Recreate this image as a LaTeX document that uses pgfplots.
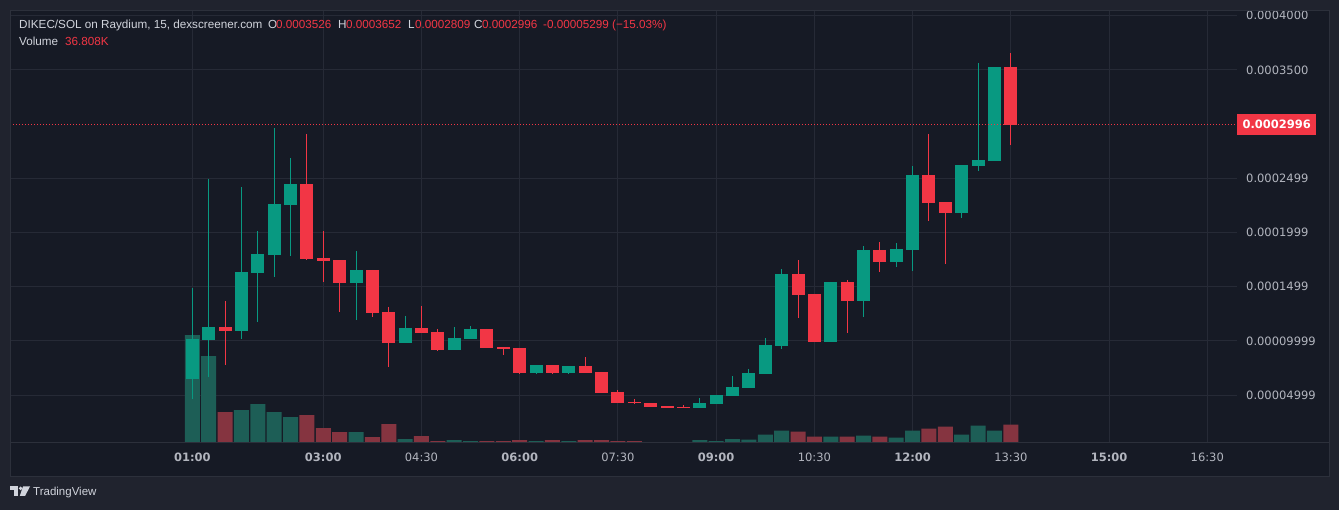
\documentclass[border=0pt]{standalone}
\usepackage{pgfplots}
\pgfplotsset{compat=1.18}
\usepackage{pgfplotstable}
\usepackage{fontspec}
\setmainfont{Liberation Sans}
\newfontfamily\dejavu{DejaVu Sans}
\definecolor{outerbg}{HTML}{20232E}
\definecolor{panebg}{HTML}{161A25}
\definecolor{gridc}{HTML}{262A36}
\definecolor{framec}{HTML}{2C303B}
\definecolor{upc}{HTML}{089981}
\definecolor{dnc}{HTML}{F23645}
\definecolor{upv}{HTML}{1D5E56}
\definecolor{dnv}{HTML}{853440}
\definecolor{txt}{HTML}{D1D4DC}
\definecolor{axtxt}{HTML}{B2B5BE}

% t = hours, O H L C = price (SOL), V = volume (K)
\pgfplotstableread{
t O H L C V
1.00 0.0000651 0.0001488 0.0000467 0.0001018 216.7
1.25 0.0001008 0.0002491 0.0000670 0.0001128 174.5
1.75 0.0001091 0.0002420 0.0001018 0.0001636 65.9
2.00 0.0001626 0.0002014 0.0001174 0.0001802 78.0
2.25 0.0001792 0.0002964 0.0001590 0.0002263 61.9
2.50 0.0002254 0.0002687 0.0001783 0.0002447 51.9
3.50 0.0001534 0.0001829 0.0001193 0.0001654 21.7
4.25 0.0000981 0.0001230 0.0000981 0.0001119 7.6
5.00 0.0000916 0.0001128 0.0000916 0.0001027 5.6
5.25 0.0001018 0.0001137 0.0001018 0.0001110 3.6
6.25 0.0000704 0.0000778 0.0000695 0.0000778 3.6
6.75 0.0000704 0.0000768 0.0000695 0.0000768 3.6
8.75 0.0000381 0.0000473 0.0000381 0.0000427 5.6
9.00 0.0000418 0.0000501 0.0000418 0.0000501 3.6
9.25 0.0000492 0.0000676 0.0000492 0.0000575 7.6
9.50 0.0000566 0.0000741 0.0000566 0.0000704 6.6
9.75 0.0000695 0.0001027 0.0000695 0.0000962 16.7
10.00 0.0000953 0.0001663 0.0000925 0.0001617 24.7
10.75 0.0000990 0.0001543 0.0000990 0.0001543 12.7
11.25 0.0001368 0.0001875 0.0001220 0.0001839 14.7
11.75 0.0001728 0.0001903 0.0001682 0.0001848 10.7
12.00 0.0001839 0.0002613 0.0001645 0.0002530 24.7
12.75 0.0002180 0.0002623 0.0002134 0.0002623 16.7
13.00 0.0002613 0.0003564 0.0002567 0.0002669 34.8
13.25 0.0002660 0.0003526 0.0002660 0.0003526 24.7
}\up

\pgfplotstableread{
t O H L C V
1.50 0.0001128 0.0001368 0.0000778 0.0001091 61.9
2.75 0.0002447 0.0002909 0.0001746 0.0001756 55.9
3.00 0.0001765 0.0002014 0.0001543 0.0001737 29.7
3.25 0.0001746 0.0001746 0.0001267 0.0001534 21.7
3.75 0.0001654 0.0001654 0.0001220 0.0001257 11.7
4.00 0.0001267 0.0001313 0.0000759 0.0000981 37.8
4.50 0.0001119 0.0001322 0.0001073 0.0001073 13.7
4.75 0.0001082 0.0001110 0.0000907 0.0000916 3.6
5.50 0.0001110 0.0001110 0.0000935 0.0000935 3.6
5.75 0.0000944 0.0000944 0.0000870 0.0000925 3.6
6.00 0.0000935 0.0000935 0.0000697 0.0000704 5.6
6.50 0.0000778 0.0000778 0.0000695 0.0000704 5.6
7.00 0.0000768 0.0000851 0.0000704 0.0000704 5.6
7.25 0.0000713 0.0000713 0.0000519 0.0000519 5.6
7.50 0.0000529 0.0000547 0.0000427 0.0000427 3.6
7.75 0.0000436 0.0000464 0.0000418 0.0000427 3.6
8.00 0.0000427 0.0000427 0.0000390 0.0000390 1.6
8.25 0.0000399 0.0000399 0.0000381 0.0000381 1.6
8.50 0.0000390 0.0000409 0.0000381 0.0000381 1.6
10.25 0.0001617 0.0001746 0.0001211 0.0001423 22.7
10.50 0.0001433 0.0001433 0.0000990 0.0000990 12.7
11.00 0.0001543 0.0001562 0.0001073 0.0001368 12.7
11.50 0.0001839 0.0001912 0.0001636 0.0001728 12.7
12.25 0.0002530 0.0002909 0.0002106 0.0002272 28.7
12.50 0.0002281 0.0002281 0.0001709 0.0002180 32.8
13.50 0.0003526 0.0003652 0.0002809 0.0002996 36.8
}\dn

\pgfplotsset{
  pane/.style={at={(10bp,67bp)}, anchor=south west, width=1227bp, height=433bp,
    scale only axis, xmin=-1.784, xmax=16.954, axis line style={draw=none},
    major tick length=0pt},
  pricey/.style={ymin=0.0000058, ymax=0.00040526},
  wick/.style={draw=none, mark=none, error bars/.cd, y dir=minus, y explicit,
    error mark=none, error bar style={draw=#1, line width=1bp}},
  body/.style={draw=none, mark=none, error bars/.cd, y dir=minus, y explicit,
    error mark=none, error bar style={draw=#1, line width=13bp, line cap=butt}},
}

\begin{document}
\begin{tikzpicture}
\useasboundingbox (0,0) rectangle (1339bp,510bp);
\fill[outerbg] (0,0) rectangle (1339bp,510bp);
\fill[panebg] (10bp,33bp) rectangle (1330bp,500bp);

% grid and tick labels
\begin{axis}[pane, pricey,
  xtick={1,3,4.5,6,7.5,9,10.5,12,13.5,15,16.5},
  xticklabels={\textbf{01:00},\textbf{03:00},04:30,\textbf{06:00},07:30,\textbf{09:00},10:30,\textbf{12:00},13:30,\textbf{15:00},16:30},
  ytick={0.00004999,0.00009999,0.0001499,0.0001999,0.0002499,0.00035,0.0004},
  yticklabels={0.00004999,0.00009999,0.0001499,0.0001999,0.0002499,0.0003500,0.0004000},
  yticklabel pos=right,
  grid=major, grid style={gridc, line width=1bp},
  xticklabel style={anchor=center, inner sep=0pt, yshift=-14.5bp, text=axtxt,
    font=\dejavu\fontsize{11.5bp}{13bp}\selectfont},
  yticklabel style={anchor=west, inner sep=0pt, xshift=9bp, text=axtxt,
    font=\dejavu\fontsize{11.5bp}{13bp}\selectfont},
]
\addplot[draw=none, mark=none] coordinates {(0,0.0001)};
\end{axis}

% volume
\begin{axis}[pane, hide axis, ymin=0, ymax=870]
\addplot[ybar, bar width=15bp, bar shift=0pt, fill=upv, draw=none] table[x=t, y=V] {\up};
\addplot[ybar, bar width=15bp, bar shift=0pt, fill=dnv, draw=none] table[x=t, y=V] {\dn};
\end{axis}

% candles
\begin{axis}[pane, pricey, hide axis]
\addplot[wick=upc] table[x=t, y=H, y error minus expr={\thisrow{H}-\thisrow{L}}] {\up};
\addplot[wick=dnc] table[x=t, y=H, y error minus expr={\thisrow{H}-\thisrow{L}}] {\dn};
\addplot[body=upc] table[x=t, y=C, y error minus expr={\thisrow{C}-\thisrow{O}}] {\up};
\addplot[body=dnc] table[x=t, y=O, y error minus expr={\thisrow{O}-\thisrow{C}}] {\dn};
\addplot[dnc, line width=1bp, dash pattern=on 1bp off 2bp] coordinates {(-1.784,0.0002996) (16.954,0.0002996)};
\end{axis}

% frame
\draw[framec, line width=1bp] (10.5bp,33.5bp) rectangle (1329.5bp,499.5bp);
\draw[framec, line width=1bp] (10bp,67bp) -- (1330bp,67bp);

% last price label
\node[fill=dnc, text=white, inner sep=0pt, minimum width=79bp, minimum height=21bp,
  anchor=west, font=\dejavu\bfseries\fontsize{11.5bp}{13bp}\selectfont] at (1237bp,385.5bp) {0.0002996};

% header
\begin{scope}[every node/.style={inner sep=0pt, anchor=base west, font=\fontsize{11.7bp}{13bp}\selectfont}]
\node[text=txt] at (19bp,481bp) {DIKEC/SOL on Raydium, 15, dexscreener.com};
\node[text=txt] at (268bp,481bp) {O};
\node[text=dnc] at (276bp,481bp) {0.0003526};
\node[text=txt] at (338bp,481bp) {H};
\node[text=dnc] at (346bp,481bp) {0.0003652};
\node[text=txt] at (408bp,481bp) {L};
\node[text=dnc] at (415bp,481bp) {0.0002809};
\node[text=txt] at (474bp,481bp) {C};
\node[text=dnc] at (482bp,481bp) {0.0002996};
\node[text=dnc] at (543bp,481bp) {-0.00005299 (\char"2212 15.03\%)};
\node[text=txt] at (19bp,464bp) {Volume};
\node[text=dnc] at (65bp,464bp) {36.808K};
\end{scope}

% footer logo + brand
\fill[txt] (9.5bp,23.5bp) rectangle (18bp,20.3bp);
\fill[txt] (13.8bp,21bp) rectangle (18bp,14bp);
\fill[txt] (20.6bp,21.6bp) circle (1.9bp);
\fill[txt] (23bp,23.5bp) -- (30bp,23.5bp) -- (25bp,14bp) -- (19.8bp,14bp) -- cycle;
\node[text=txt, inner sep=0pt, anchor=base west, font=\fontsize{11.5bp}{13bp}\selectfont] at (33bp,14.5bp) {TradingView};
\end{tikzpicture}
\end{document}
